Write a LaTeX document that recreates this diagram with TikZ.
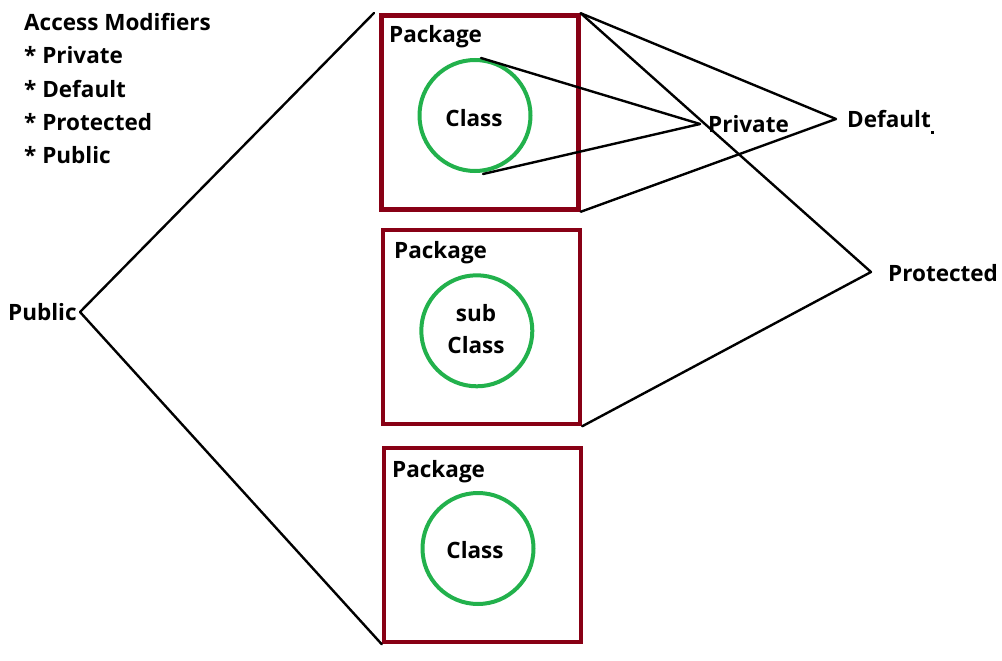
\documentclass[tikz,border=0pt]{standalone}
\usepackage{fontspec}
\setmainfont{Open Sans}
\definecolor{pkg}{HTML}{880015}
\definecolor{cls}{HTML}{22B14C}
\begin{document}
\begin{tikzpicture}[x=1pt,y=-1pt,
  lbl/.style={font=\bfseries\fontsize{22.5}{27}\selectfont, inner sep=0, anchor=base west},
  ctext/.style={font=\bfseries\fontsize{22.5}{32}\selectfont, inner sep=0, align=center},
  pkgbox/.style={draw=pkg, line width=4.5pt, minimum width=197pt, minimum height=194pt, inner sep=0},
  clsc/.style={draw=cls, line width=4pt, circle, minimum size=111pt, inner sep=0},
  conn/.style={draw=black, line width=2.4pt, line cap=round, line join=round}]
\useasboundingbox (0,0) rectangle (1002,661);
% heading list
\node[lbl] (h0) at (24,31) {Access Modifiers};
\node[lbl] (h1) at (24,64) {* Private};
\node[lbl] (h2) at (24,97) {* Default};
\node[lbl] (h3) at (24,130) {* Protected};
\node[lbl] (h4) at (24,163) {* Public};
% packages
\node[pkgbox] (p1) at (480,112.5) {};
\node[pkgbox] (p2) at (481.5,327) {};
\node[pkgbox] (p3) at (482.5,545) {};
\node[lbl] (t1) at (389,43) {Package};
\node[lbl] (t2) at (394,258) {Package};
\node[lbl] (t3) at (392,477) {Package};
% classes
\node[clsc] (c1) at (475,115.5) {};
\node[clsc] (c2) at (476.8,330.8) {};
\node[clsc] (c3) at (478,548.5) {};
\node[ctext] (k1) at (474,118.5) {Class};
\node[ctext] (k2) at (476,329) {sub\\Class};
\node[ctext] (k3) at (475,550.5) {Class};
% vertex coordinates
\coordinate (vpub) at (80,312);
\coordinate (vpri) at (700,124);
\coordinate (vdef) at (836,119);
\coordinate (vpro) at (871,272);
\coordinate (pubtop) at (374,13);
% labels
\node[lbl, anchor=west] (lpub) at (8,312) {Public};
\node[lbl, anchor=west] (lpri) at (708,124) {Private};
\node[lbl, anchor=west] (ldef) at (847,119) {Default};
\node[lbl, anchor=west] (lpro) at (888,273) {Protected};
\fill (931,131) rectangle (934,134);
% connectors
\draw[conn] (pubtop) -- (vpub) -- (p3.south west);
\draw[conn] (c1.north) ++(6,0) coordinate (c1t) (c1t) -- (vpri);
\draw[conn] (c1.south) ++(8,1) coordinate (c1b) (c1b) -- (vpri);
\draw[conn] (p1.north east) -- (vdef) -- (p1.south east);
\draw[conn] (p1.north east) -- (vpro) -- (p2.south east);
\end{tikzpicture}
\end{document}
